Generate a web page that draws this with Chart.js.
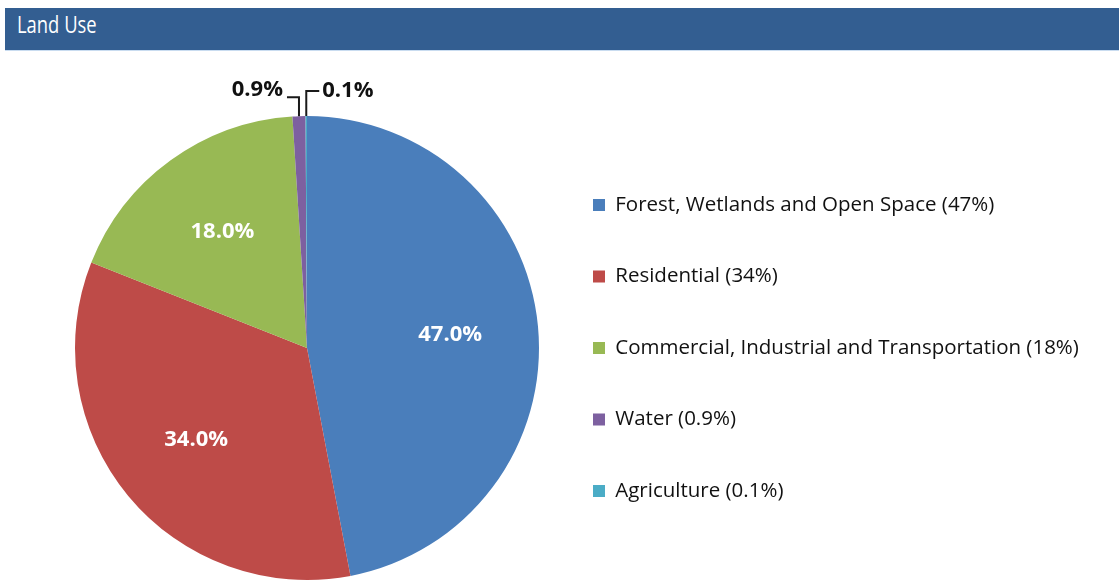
<!DOCTYPE html>
<html>
<head>
<meta charset="utf-8">
<title>Land Use</title>
<script src="https://cdn.jsdelivr.net/npm/chart.js@4.4.0/dist/chart.umd.min.js"></script>
<style>
  html, body { margin: 0; padding: 0; background: #fff; }
  #wrap { position: relative; width: 1119px; height: 583px; overflow: hidden; }
  #header {
    position: absolute; left: 5px; top: 8px; width: 1114px; height: 42px;
    background: #335e91; border-bottom: 1px solid #c9dcf0;
  }
  #header span {
    position: absolute; left: 12px; top: 5px;
    color: #fff; font: 23px/23px "Open Sans", sans-serif;
    transform: scaleX(0.8); transform-origin: left top; white-space: nowrap;
  }
  #chart { position: absolute; left: 0; top: 0; }
</style>
</head>
<body>
<div id="wrap">
  <canvas id="chart" width="1119" height="583"></canvas>
  <div id="header"><span>Land Use</span></div>
</div>
<script>
const categories = [
  "Forest, Wetlands and Open Space",
  "Residential",
  "Commercial, Industrial and Transportation",
  "Water",
  "Agriculture"
];
const values = [47, 34, 18, 0.9, 0.1];
const colors = ["#4a7ebb", "#be4b48", "#98b954", "#7d60a0", "#4bacc6"];

const legendFont = { family: "Open Sans", size: 20.5 };
const legendLabels = categories.map((c, i) => `${c} (${values[i]}%)`);

// legend box should start at x=593, pie centre at x=307
const measure = document.createElement("canvas").getContext("2d");
measure.font = `${legendFont.size}px "${legendFont.family}"`;
const longest = Math.max(...legendLabels.map((t) => measure.measureText(t).width));
const boxW = 12;
const legendPad = 51;
const boxX = 593;
const padRight = 1119 - 10 - boxW - legendFont.size / 2 - longest - boxX;
const padLeft = 2 * 307 - (boxX - legendPad);

const sliceLabels = {
  id: "sliceLabels",
  afterDatasetsDraw(chart) {
    const { ctx } = chart;
    const meta = chart.getDatasetMeta(0);
    let small = 0;
    ctx.save();
    ctx.font = 'bold 22px "Open Sans"';
    ctx.textBaseline = "middle";
    meta.data.forEach((arc, i) => {
      const { x, y, startAngle, endAngle, outerRadius } = arc.getProps(
        ["x", "y", "startAngle", "endAngle", "outerRadius"], true
      );
      const mid = (startAngle + endAngle) / 2;
      const text = values[i].toFixed(1) + "%";
      if (values[i] >= 5) {
        ctx.fillStyle = "#ffffff";
        ctx.textAlign = "center";
        ctx.fillText(text, x + Math.cos(mid) * outerRadius * 0.62, y + Math.sin(mid) * outerRadius * 0.62);
        return;
      }
      // small slices: elbow leader line above the pie
      const ex = x + Math.cos(mid) * outerRadius;
      const ey = y + Math.sin(mid) * outerRadius;
      const left = small === 0;
      const rise = left ? 19 : 25;
      const run = left ? -12 : 13;
      ctx.strokeStyle = "#1a1a1a";
      ctx.lineWidth = 2;
      ctx.beginPath();
      ctx.moveTo(ex, ey);
      ctx.lineTo(ex, ey - rise);
      ctx.lineTo(ex + run, ey - rise);
      ctx.stroke();
      ctx.fillStyle = "#111";
      ctx.textAlign = left ? "right" : "left";
      ctx.fillText(text, ex + run + (left ? -4 : 3), left ? ey - rise - 7 : ey - rise);
      small++;
    });
    ctx.restore();
  }
};

new Chart(document.getElementById("chart"), {
  type: "pie",
  data: {
    labels: legendLabels,
    datasets: [{
      data: values,
      backgroundColor: colors,
      borderWidth: 0,
      hoverOffset: 0
    }]
  },
  options: {
    responsive: false,
    devicePixelRatio: 1,
    animation: false,
    events: [],
    layout: {
      padding: { top: 116, bottom: 3, left: padLeft, right: padRight }
    },
    plugins: {
      tooltip: { enabled: false },
      legend: {
        position: "right",
        maxWidth: 1000,
        labels: {
          boxWidth: boxW,
          boxHeight: 12,
          padding: legendPad,
          color: "#111111",
          font: legendFont
        }
      }
    }
  },
  plugins: [sliceLabels]
});
</script>
</body>
</html>
